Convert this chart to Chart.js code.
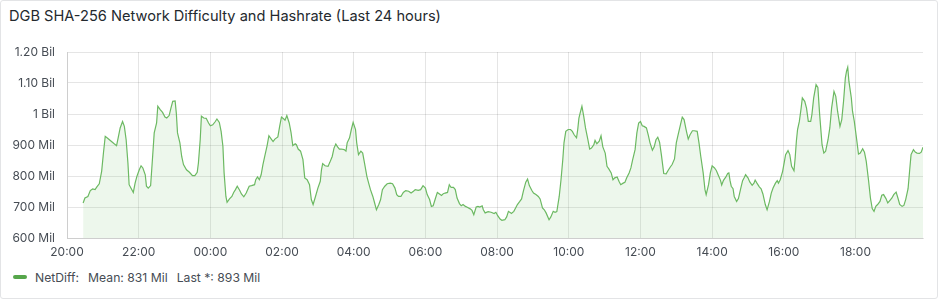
<!DOCTYPE html>
<html>
<head>
<meta charset="utf-8">
<title>DGB SHA-256 Network Difficulty</title>
<script src="https://cdn.jsdelivr.net/npm/chart.js@4.4.1/dist/chart.umd.min.js"></script>
<style>
	html, body { margin: 0; padding: 0; background: #fff; }
	.painel { position: absolute; left: 0; top: 0; width: 940px; height: 300px; font-family: Inter, sans-serif; }
	.painel-borda { position: absolute; left: 0; top: 0; width: 936px; height: 297px; border: 1px solid #e3e4e6; border-radius: 3px; }
	.painel-titulo { position: absolute; left: 9px; top: 7px; font-size: 14.6px; font-weight: 400; color: #24292e; white-space: nowrap; }
	.grafico { position: absolute; left: 0; top: 30px; }
	.legenda { position: absolute; left: 13px; top: 268px; height: 18px; font-size: 12.2px; color: #464c54; display: flex; align-items: center; white-space: nowrap; }
	.legenda-marca { width: 14px; height: 4px; border-radius: 2px; background: #56a64b; margin-right: 8px; }
	.legenda span { margin-right: 9px; }
</style>
</head>
<body>
<div class="painel">
	<div class="painel-borda"></div>
	<div class="painel-titulo">DGB SHA-256 Network Difficulty and Hashrate (Last 24 hours)</div>
	<canvas id="graficoNetDiff" class="grafico" width="940" height="232"></canvas>
	<div class="legenda">
		<div class="legenda-marca"></div>
		<span>NetDiff:</span><span>Mean: 831 Mil</span><span>Last *: 893 Mil</span>
	</div>
</div>
<script>
// minutes after 20:00 (day before) and network difficulty in millions
var sampleMinutes = [
	27, 30, 35, 39, 43, 47, 50, 54, 58, 61, 64, 68, 74, 79, 83, 86, 89, 93, 96, 99,
	102, 104, 107, 111, 114, 117, 121, 124, 127, 131, 133, 136, 140, 143, 146, 150, 152, 156, 160, 164,
	167, 171, 174, 177, 181, 183, 185, 189, 192, 195, 200, 205, 210, 214, 218, 220, 223, 225, 229, 233,
	237, 240, 244, 248, 251, 255, 258, 261, 263, 266, 268, 272, 276, 279, 282, 285, 289, 292, 296, 300,
	302, 305, 309, 314, 316, 319, 322, 325, 328, 331, 335, 338, 342, 345, 348, 353, 356, 359, 363, 365,
	368, 372, 375, 378, 382,
	384, 387, 391, 395, 398, 402, 406, 409, 412, 416, 420, 424, 426, 428, 432, 437, 440, 444, 447, 450,
	453, 456, 459, 464, 467, 469, 473, 476, 479, 483, 485, 488, 492, 495, 498, 502, 505, 508, 512, 515,
	518, 522, 525, 528, 532, 536, 541, 545, 549, 552, 555, 559, 563, 567, 572, 576, 580, 583, 588, 592,
	596, 600, 603, 607, 610, 613, 617, 620, 623, 627, 630, 633, 637, 640, 643, 647, 650, 653, 657, 660,
	663, 667, 670, 675, 678, 681, 685, 688, 691, 695, 697, 700, 705, 710, 715, 718, 721, 725, 728, 733,
	736, 739, 743,
	744, 748, 751, 754, 758, 761, 764, 768, 771, 774, 778, 781, 785, 789, 792, 796, 799, 802, 807, 810,
	814, 817, 820, 824, 827, 830, 832, 835, 839, 843, 846, 849, 853, 855, 857, 859, 862, 865, 868, 872,
	875, 878, 882, 884, 887, 891, 894, 897, 901, 904, 907, 911, 914, 917, 921, 924, 927, 931, 934, 937,
	941, 944, 947, 951, 954, 957, 960, 963, 966, 970, 973, 976, 980, 983, 986, 989, 992, 995, 999, 1003,
	1007, 1010, 1013, 1017, 1020, 1023, 1027, 1030, 1033, 1037, 1040, 1043, 1047, 1050, 1055, 1058, 1061, 1065, 1068, 1070,
	1074, 1077, 1080, 1084, 1087, 1090, 1094, 1096, 1099, 1103, 1106, 1108,
	1110, 1112, 1115, 1117, 1121, 1124, 1128, 1131, 1134, 1136, 1140, 1143, 1147, 1150, 1152, 1155, 1159, 1162, 1165, 1169,
	1172, 1176, 1179, 1182, 1186, 1189, 1191, 1194, 1198, 1201, 1203, 1207, 1210, 1213, 1217, 1219, 1221, 1223, 1226, 1229,
	1231, 1235, 1238, 1241, 1245, 1247, 1250, 1254, 1257, 1260, 1264, 1267, 1270, 1274, 1277, 1280, 1284, 1287, 1290, 1294,
	1297, 1300, 1303, 1305, 1307, 1309, 1313, 1315, 1318, 1322, 1325, 1328, 1332, 1335, 1338, 1342, 1345, 1348, 1351, 1354,
	1357, 1361, 1364, 1367, 1371, 1374, 1377, 1381, 1384, 1388, 1391, 1394, 1398, 1401, 1404, 1408, 1411, 1413, 1417, 1420,
	1423, 1427, 1430, 1433
];

var netDiff = [
	713, 729, 734, 753, 758, 756, 765, 775, 815, 874, 928, 922, 912, 904, 898, 926, 955, 976, 960, 917,
	842, 772, 761, 747, 777, 799, 820, 833, 826, 804, 767, 761, 769, 853, 939, 971, 1025, 1014, 1005, 990,
	987, 995, 1019, 1041, 1042, 1003, 939, 907, 863, 837, 820, 812, 801, 801, 812, 842, 917, 993, 987, 986,
	971, 962, 965, 975, 984, 973, 944, 896, 810, 734, 715, 726, 734, 747, 756, 767, 754, 742, 733, 745,
	754, 767, 769, 772, 788, 797, 788, 804, 837, 863, 898, 930, 919, 911, 919, 926, 960, 990, 984, 980,
	995, 971, 941, 898, 904,
	901, 887, 880, 853, 794, 788, 772, 724, 708, 734, 761, 783, 820, 840, 833, 831, 844, 863, 890, 903,
	894, 887, 887, 885, 880, 907, 923, 950, 973, 950, 907, 869, 880, 874, 842, 799, 777, 756, 734, 713,
	691, 708, 724, 756, 767, 775, 777, 775, 761, 740, 734, 734, 747, 753, 751, 745, 751, 756, 754, 756,
	769, 761, 740, 724, 702, 704, 729, 747, 743, 737, 743, 745, 747, 772, 763, 763, 756, 729, 711, 704,
	708, 702, 699, 694, 689, 675, 700, 702, 700, 704, 691, 681, 685, 683, 679, 683, 672, 661, 657, 659,
	668, 686, 681,
	679, 686, 697, 708, 718, 726, 751, 780, 790, 769, 754, 745, 740, 734, 726, 697, 691, 681, 659, 668,
	686, 683, 685, 734, 788, 853, 907, 944, 950, 950, 944, 933, 923, 950, 987, 1003, 1025, 993, 955, 917,
	887, 890, 901, 915, 904, 912, 930, 894, 874, 831, 823, 810, 788, 794, 797, 783, 772, 777, 780, 794,
	810, 826, 853, 885, 939, 971, 976, 962, 960, 955, 933, 907, 883, 894, 917, 925, 909, 869, 808, 807,
	820, 829, 837, 855, 907, 933, 966, 990, 982, 944, 919, 933, 946, 946, 944, 907, 863, 810, 756, 740,
	772, 810, 833, 826, 818, 804, 786, 771, 786, 797, 808, 810,
	785, 767, 759, 734, 718, 727, 761, 785, 796, 804, 794, 781, 770, 777, 787, 777, 765, 759, 742, 708,
	691, 718, 745, 761, 777, 785, 777, 788, 815, 847, 869, 882, 869, 831, 817, 858, 912, 950, 976, 1019,
	1052, 1041, 1019, 976, 976, 998, 1052, 1095, 1086, 998, 901, 874, 880, 917, 955, 1019, 1073, 1057, 1009, 960,
	982, 1041, 1116, 1138, 1151, 1105, 1052, 1009, 976, 917, 871, 874, 888, 877, 847, 783, 729, 695, 686, 702,
	708, 718, 738, 740, 727, 713, 720, 729, 740, 748, 729, 708, 702, 705, 724, 759, 826, 869, 885, 877,
	874, 873, 877, 893
];

var xTickMinutes = [0, 120, 240, 360, 480, 600, 720, 840, 960, 1080, 1200, 1320];
var xTickLabels = ['20:00', '22:00', '00:00', '02:00', '04:00', '06:00', '08:00', '10:00', '12:00', '14:00', '16:00', '18:00'];
var yTickValues = [600, 700, 800, 900, 1000, 1100, 1200];
var yTickLabels = ['600 Mil', '700 Mil', '800 Mil', '900 Mil', '1 Bil', '1.10 Bil', '1.20 Bil'];

var Painel = Painel || {};

Painel.GraficoNetDiff = (function() {

	function GraficoNetDiff() {
		this.ctx = document.getElementById('graficoNetDiff').getContext('2d');
	}

	GraficoNetDiff.prototype.iniciar = function() {
		var pontos = sampleMinutes.map(function(m, i) {
			return { x: m, y: netDiff[i] };
		});
		var corGrade = 'rgba(0,0,0,0.1)';
		var fonteEixo = { family: 'Inter', size: 12 };

		this.grafico = new Chart(this.ctx, {
			type: 'line',
			data: {
				datasets: [{
					label: 'NetDiff',
					data: pontos,
					borderColor: '#6cb962',
					backgroundColor: 'rgba(115,191,105,0.13)',
					borderWidth: 1.2,
					pointRadius: 0,
					tension: 0,
					fill: 'start'
				}]
			},
			options: {
				responsive: false,
				animation: false,
				layout: { padding: { top: 22, right: 17, left: 0, bottom: 0 } },
				plugins: { legend: { display: false }, tooltip: { enabled: false } },
				scales: {
					x: {
						type: 'linear',
						min: 0,
						max: 1433,
						afterBuildTicks: function(eixo) {
							eixo.ticks = xTickMinutes.map(function(v) { return { value: v }; });
						},
						afterFit: function(eixo) { eixo.height = 24; },
						ticks: {
							padding: 7,
							maxRotation: 0,
							autoSkip: false,
							color: '#464c54',
							font: fonteEixo,
							callback: function(v) { return xTickLabels[xTickMinutes.indexOf(v)]; }
						},
						grid: { color: corGrade, drawTicks: false },
						border: { color: corGrade }
					},
					y: {
						min: 600,
						max: 1200,
						afterBuildTicks: function(eixo) {
							eixo.ticks = yTickValues.map(function(v) { return { value: v }; });
						},
						afterFit: function(eixo) { eixo.width = 67; },
						ticks: {
							padding: 12,
							color: '#464c54',
							font: fonteEixo,
							callback: function(v) { return yTickLabels[yTickValues.indexOf(v)]; }
						},
						grid: { color: corGrade, drawTicks: false },
						border: { color: corGrade }
					}
				}
			}
		});
	};

	return GraficoNetDiff;

}());

var graficoNetDiff = new Painel.GraficoNetDiff();
graficoNetDiff.iniciar();
</script>
</body>
</html>
